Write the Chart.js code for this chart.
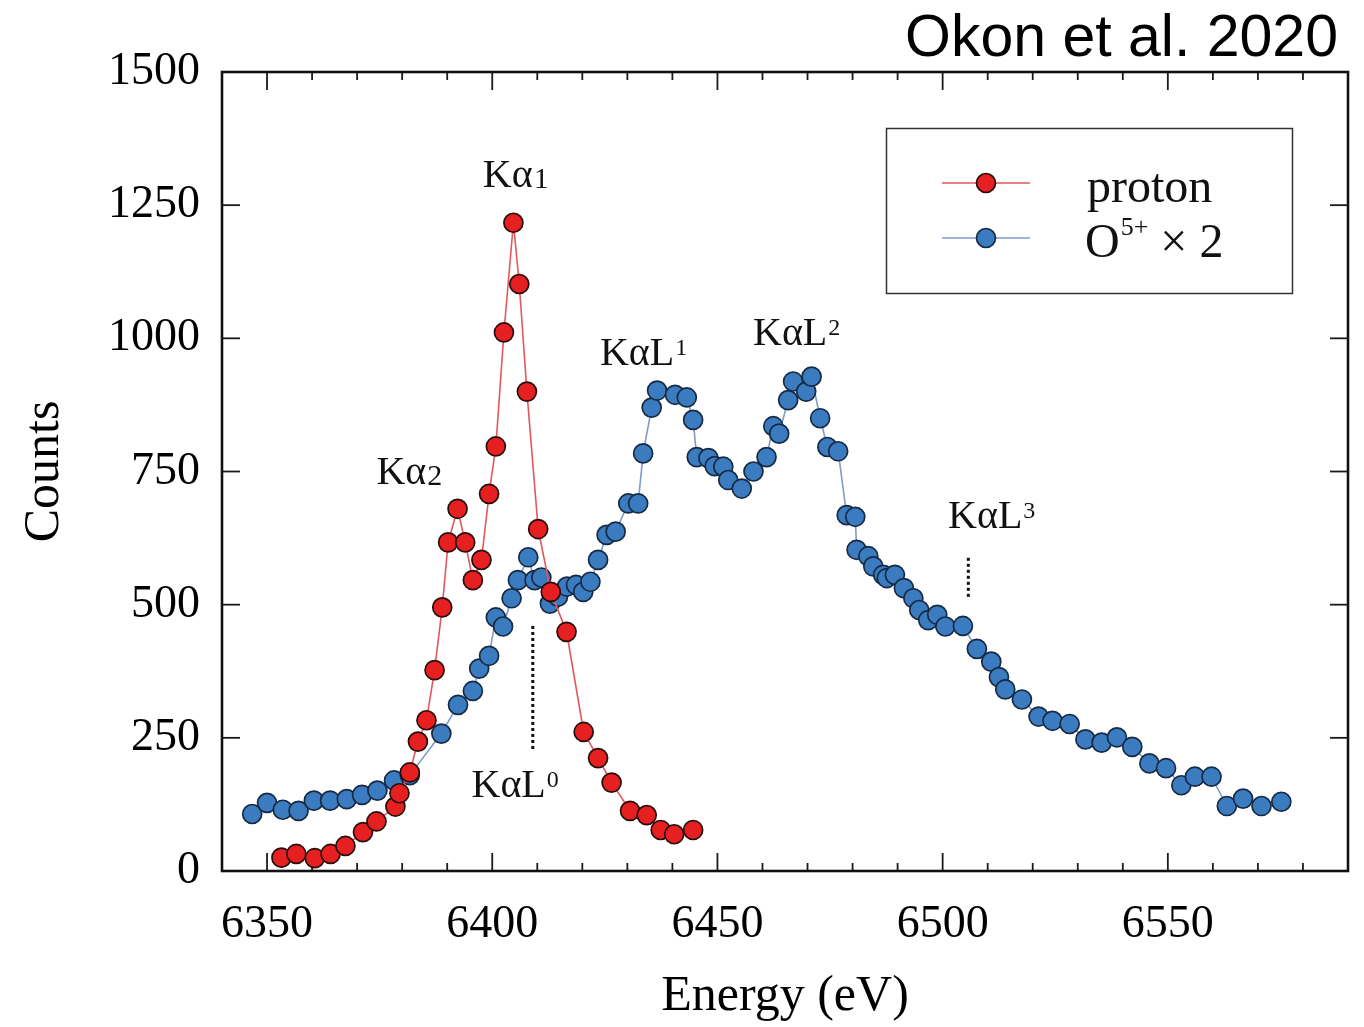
<!DOCTYPE html>
<html><head><meta charset="utf-8">
<script src="https://cdn.jsdelivr.net/npm/chart.js@4.4.1/dist/chart.umd.min.js"></script>
<style>html,body{margin:0;padding:0;background:#fff;}</style>
</head><body>
<canvas id="c" width="1364" height="1027"></canvas>
<script>
// ---------- data ----------
const protonEnergy = [6353.2,6356.5,6360.6,6364.1,6367.4,6371.3,6374.3,6378.5,6379.4,6381.7,6383.5,6385.4,6387.2,6388.9,6390.2,6392.3,6394.0,6395.7,6397.6,6399.3,6400.8,6402.6,6404.7,6406.0,6407.7,6410.2,6413.0,6416.5,6420.3,6423.5,6426.5,6430.6,6434.3,6437.4,6440.4,6444.6];
const protonCounts = [25,32,24,32,47,73,93,121,146,185,243,283,377,495,617,680,617,546,584,708,797,1011,1217,1102,900,642,524,449,261,212,166,113,105,77,69,77];

const oxygenEnergy = [6346.7,6350.0,6353.5,6357.0,6360.4,6364.0,6367.7,6371.1,6374.5,6378.2,6381.7,6388.7,6392.4,6395.7,6397.1,6399.3,6400.8,6402.4,6404.3,6405.7,6408.0,6409.4,6410.9,6412.8,6414.6,6416.6,6418.6,6420.2,6421.8,6423.5,6425.4,6427.4,6430.2,6432.4,6433.5,6435.4,6436.6,6440.6,6443.2,6444.6,6445.4,6448.0,6449.4,6451.3,6452.4,6455.4,6458.0,6460.9,6462.4,6463.7,6465.7,6466.8,6469.7,6470.9,6472.8,6474.4,6476.8,6478.7,6480.6,6480.9,6483.5,6484.6,6486.8,6487.6,6489.4,6491.4,6493.5,6494.8,6496.8,6498.8,6500.6,6504.5,6507.6,6510.8,6512.5,6513.9,6517.6,6521.3,6524.4,6528.2,6531.7,6535.3,6538.7,6542.1,6545.9,6549.6,6553.0,6556.0,6559.7,6563.1,6566.7,6570.8,6575.2];
const oxygenCounts = [107,128,115,113,132,132,135,143,151,170,180,258,312,338,380,404,476,459,512,546,589,546,551,502,515,534,537,524,543,584,631,637,690,690,784,870,902,894,889,847,777,775,760,759,734,718,750,777,835,821,884,919,900,928,850,796,788,668,665,603,591,572,556,550,556,531,512,490,471,481,459,460,417,393,364,341,322,290,282,276,247,241,251,233,202,193,161,177,177,122,136,122,130];

const xTickValues = [6350,6400,6450,6500,6550];
const yTickValues = [0,250,500,750,1000,1250,1500];
const seriesNames = ['proton','O5+ × 2'];

// line-identification labels: text, sub/superscript, anchor (energy, counts)
const lineLabelText = ['Kα','Kα','KαL','KαL','KαL','KαL'];
const lineLabelIndex = ['1','2','1','2','3','0'];
const lineLabelKind = ['sub','sub','sup','sup','sup','sup'];
const lineLabelEnergy = [6397.9,6374.3,6423.9,6457.9,6501.2,6395.4];
const lineLabelCounts = [1284,726,950,987,644,139];
// dotted markers: energy, count range
const markerEnergy = [6409.0,6505.7];
const markerFrom = [226,509];
const markerTo = [460,588];

// ---------- styling ----------
const SERIF = '"Liberation Serif","Times New Roman",serif';
const SANS = '"Liberation Sans",Arial,sans-serif';
const RED = '#e62020', RED_LINE = '#e2585c', RED_EDGE = '#2a0c0c';
const BLUE = '#3b7bbf', BLUE_LINE = '#7d9dc8', BLUE_EDGE = '#172a44';

const decor = {
  id: 'decor',
  beforeDatasetsDraw(chart) {
    const {ctx, chartArea: a, scales: {x, y}} = chart;
    ctx.save();
    ctx.strokeStyle = '#1a1a1a';
    ctx.lineWidth = 1.8;
    const seg = (x0, y0, x1, y1) => { ctx.beginPath(); ctx.moveTo(x0, y0); ctx.lineTo(x1, y1); ctx.stroke(); };
    for (let v = 6340; v <= 6590; v += 10) {
      const px = x.getPixelForValue(v);
      if (px <= a.left + 2 || px >= a.right - 2) continue;
      const L = xTickValues.includes(v) ? 18 : 8;
      seg(px, a.bottom, px, a.bottom - L);
      seg(px, a.top, px, a.top + L);
    }
    for (const v of yTickValues) {
      const py = y.getPixelForValue(v);
      if (py <= a.top + 2 || py >= a.bottom - 2) continue;
      seg(a.left, py, a.left + 18, py);
      seg(a.right, py, a.right - 18, py);
    }
    ctx.lineWidth = 2.6;
    ctx.strokeStyle = '#111';
    ctx.strokeRect(a.left, a.top, a.right - a.left, a.bottom - a.top);
    ctx.restore();
  },
  afterDatasetsDraw(chart) {
    const {ctx, scales: {x, y}} = chart;
    ctx.save();
    // dotted markers
    ctx.strokeStyle = '#111';
    ctx.lineWidth = 3;
    ctx.setLineDash([3, 3]);
    markerEnergy.forEach((e, i) => {
      const px = x.getPixelForValue(e);
      ctx.beginPath();
      ctx.moveTo(px, y.getPixelForValue(markerTo[i]));
      ctx.lineTo(px, y.getPixelForValue(markerFrom[i]));
      ctx.stroke();
    });
    ctx.setLineDash([]);
    // labels
    ctx.fillStyle = '#111';
    ctx.textBaseline = 'alphabetic';
    ctx.textAlign = 'left';
    lineLabelText.forEach((t, i) => {
      const px = x.getPixelForValue(lineLabelEnergy[i]);
      const py = y.getPixelForValue(lineLabelCounts[i]);
      ctx.font = '40px ' + SERIF;
      ctx.fillText(t, px, py);
      const w = ctx.measureText(t).width;
      if (lineLabelKind[i] === 'sub') {
        ctx.font = '30px ' + SERIF;
        ctx.fillText(lineLabelIndex[i], px + w + 1, py + 1);
      } else {
        ctx.font = '24px ' + SERIF;
        ctx.fillText(lineLabelIndex[i], px + w + 1, py - 10);
      }
    });
    ctx.restore();
  },
  afterDraw(chart) {
    const {ctx} = chart;
    ctx.save();
    // credit
    ctx.fillStyle = '#000';
    ctx.font = '59px ' + SANS;
    ctx.textAlign = 'right';
    ctx.textBaseline = 'alphabetic';
    ctx.fillText('Okon et al. 2020', 1338, 56);
    // legend
    ctx.strokeStyle = '#333';
    ctx.lineWidth = 1.5;
    ctx.strokeRect(886.5, 128.5, 406, 165);
    const rows = [183, 238];
    chart.data.datasets.forEach((ds, i) => {
      const yy = rows[i];
      ctx.strokeStyle = ds.borderColor;
      ctx.lineWidth = ds.borderWidth;
      ctx.beginPath(); ctx.moveTo(942, yy); ctx.lineTo(1030, yy); ctx.stroke();
      ctx.beginPath(); ctx.arc(986, yy, ds.pointRadius, 0, Math.PI * 2);
      ctx.fillStyle = ds.pointBackgroundColor; ctx.fill();
      ctx.lineWidth = ds.pointBorderWidth; ctx.strokeStyle = ds.pointBorderColor; ctx.stroke();
    });
    ctx.fillStyle = '#111';
    ctx.textAlign = 'left';
    ctx.font = '48px ' + SERIF;
    ctx.fillText(seriesNames[0], 1087, 202);
    // "O5+ × 2" with superscript
    const nm = seriesNames[1];
    const base = nm.slice(0, 1), sup = nm.slice(1, 3), rest = nm.slice(3);
    ctx.fillText(base, 1085, 257);
    let wx = 1085 + ctx.measureText(base).width;
    ctx.font = '26px ' + SERIF;
    ctx.fillText(sup, wx + 1, 235);
    wx += ctx.measureText(sup).width + 1;
    ctx.font = '48px ' + SERIF;
    ctx.fillText(rest, wx, 257);
    ctx.restore();
  }
};

const mk = (xs, ys) => xs.map((e, i) => ({x: e, y: ys[i]}));
const plain = v => String(v);

new Chart(document.getElementById('c'), {
  type: 'line',
  data: {
    datasets: [
      { label: seriesNames[0], data: mk(protonEnergy, protonCounts),
        borderColor: RED_LINE, borderWidth: 1.6, backgroundColor: RED,
        pointBackgroundColor: RED, pointBorderColor: RED_EDGE, pointBorderWidth: 1.7,
        pointRadius: 9.5, tension: 0, fill: false },
      { label: seriesNames[1], data: mk(oxygenEnergy, oxygenCounts),
        borderColor: BLUE_LINE, borderWidth: 1.6, backgroundColor: BLUE,
        pointBackgroundColor: BLUE, pointBorderColor: BLUE_EDGE, pointBorderWidth: 1.7,
        pointRadius: 9.5, tension: 0, fill: false }
    ]
  },
  options: {
    responsive: false,
    animation: false,
    devicePixelRatio: 1,
    layout: { padding: { top: 72, right: 16, left: 0, bottom: 0 } },
    plugins: { legend: { display: false }, tooltip: { enabled: false } },
    scales: {
      x: {
        type: 'linear', min: 6340, max: 6590,
        afterBuildTicks: s => { s.ticks = xTickValues.map(v => ({value: v})); },
        afterFit: s => { s.height = 156; },
        grid: { display: false, drawTicks: false }, border: { display: false },
        ticks: { font: { family: SERIF, size: 46 }, color: '#000', padding: 26, maxRotation: 0, autoSkip: false, callback: plain },
        title: { display: true, text: 'Energy (eV)', color: '#000',
                 font: { family: SERIF, size: 50, lineHeight: 1 }, padding: { top: 0, bottom: 5 } }
      },
      y: {
        type: 'linear', min: 0, max: 1500,
        afterBuildTicks: s => { s.ticks = yTickValues.map(v => ({value: v})); },
        afterFit: s => { s.width = 222; },
        grid: { display: false, drawTicks: false }, border: { display: false },
        ticks: { font: { family: SERIF, size: 46 }, color: '#000', padding: 22, autoSkip: false, callback: plain },
        title: { display: true, text: 'Counts', color: '#000',
                 font: { family: SERIF, size: 50, lineHeight: 1 }, padding: { top: 20, bottom: 0 } }
      }
    }
  },
  plugins: [decor]
});
</script>
</body></html>
